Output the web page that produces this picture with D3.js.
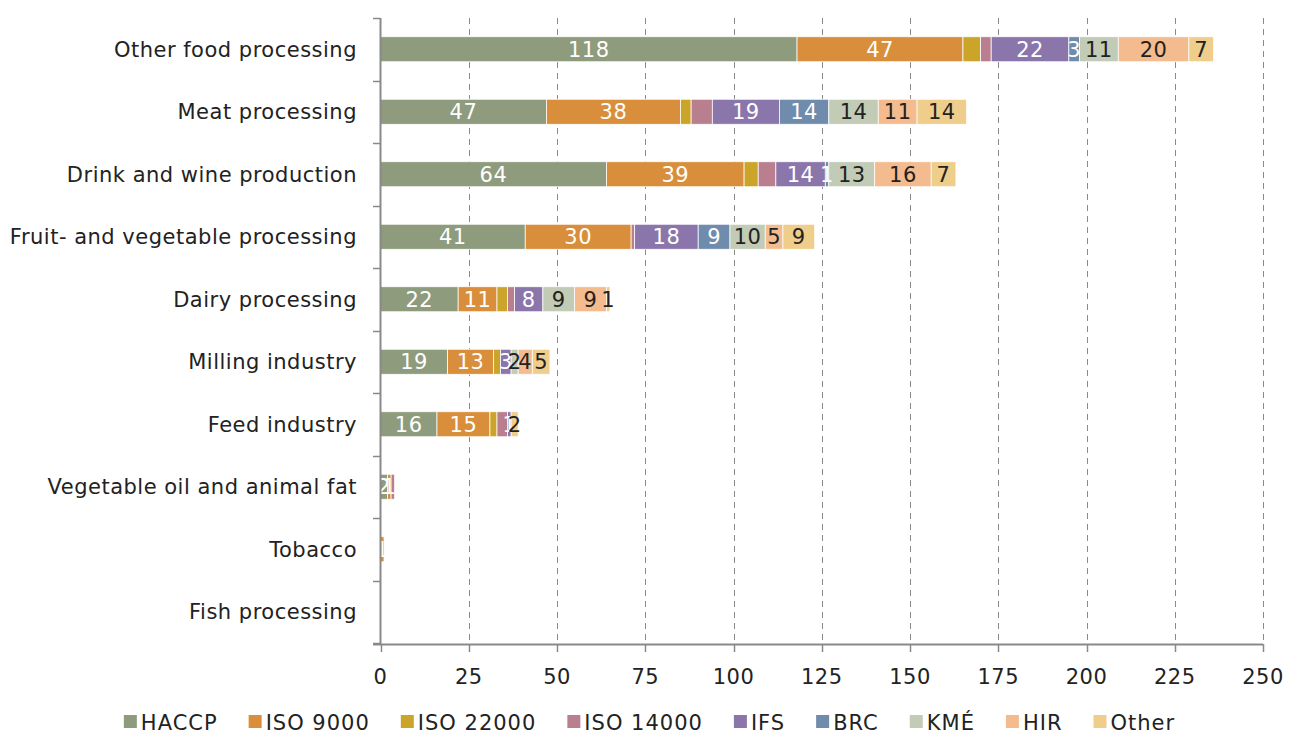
<!DOCTYPE html>
<html>
<head>
<meta charset="utf-8">
<script src="https://cdn.jsdelivr.net/npm/d3@7"></script>
<style>
  html, body { margin: 0; padding: 0; background: #fff; }
  svg { display: block; }
  text { font-family: "DejaVu Sans", "Lato", sans-serif; }
</style>
</head>
<body>
<script>
const categories = ["Other food processing", "Meat processing", "Drink and wine production",
  "Fruit- and vegetable processing", "Dairy processing", "Milling industry", "Feed industry",
  "Vegetable oil and animal fat", "Tobacco", "Fish processing"];
const seriesNames = ["HACCP", "ISO 9000", "ISO 22000", "ISO 14000", "IFS", "BRC", "KMÉ", "HIR", "Other"];
const haccp    = [118, 47, 64, 41, 22, 19, 16, 2, 0, 0];
const iso9000  = [47, 38, 39, 30, 11, 13, 15, 1, 1, 0];
const iso22000 = [5, 3, 4, 0, 3, 2, 2, 0, 0, 0];
const iso14000 = [3, 6, 5, 1, 2, 0, 3, 1, 0, 0];
const ifs      = [22, 19, 14, 18, 8, 3, 1, 0, 0, 0];
const brc      = [3, 14, 1, 9, 0, 0, 0, 0, 0, 0];
const kme      = [11, 14, 13, 10, 9, 2, 0, 0, 0, 0];
const hir      = [20, 11, 16, 5, 9, 4, 0, 0, 0, 0];
const other    = [7, 14, 7, 9, 1, 5, 2, 0, 0, 0];
const xTicks = [0, 25, 50, 75, 100, 125, 150, 175, 200, 225, 250];

const seriesValues = [haccp, iso9000, iso22000, iso14000, ifs, brc, kme, hir, other];
const colors = ["#8E9B7C", "#D98E3B", "#CBA52A", "#B97F8F", "#8B76AC", "#6F8CAD", "#C1CBB5", "#F4BC8E", "#EFCD8A"];
const labelColors = ["#fff", "#fff", null, null, "#fff", "#fff", "#222", "#222", "#222"];

const W = 1297, H = 734;
const FS = 21;
const svg = d3.select("body").append("svg").attr("width", W).attr("height", H);

const x = d3.scaleLinear().domain([0, 250]).range([380.5, 1263]);
const y = d3.scaleBand().domain(categories).range([18, 643]).paddingInner(0.6).paddingOuter(0.3);
const band = d3.scaleBand().domain(categories).range([18, 643]);

const table = categories.map((c, i) => {
  const row = { category: c };
  seriesNames.forEach((s, k) => row[s] = seriesValues[k][i]);
  return row;
});
const stacked = d3.stack().keys(seriesNames)(table);

// gridlines
svg.append("g").selectAll("line").data(xTicks.filter(t => t > 0)).join("line")
  .attr("x1", d => Math.round(x(d)) + 0.5).attr("x2", d => Math.round(x(d)) + 0.5)
  .attr("y1", 18).attr("y2", 645)
  .attr("stroke", "#8a8a8a").attr("stroke-width", 1).attr("stroke-dasharray", "6,5");

// bars
const g = svg.append("g");
stacked.forEach((layer, k) => {
  g.append("g").selectAll("rect").data(layer).join("rect")
    .attr("x", d => x(d[0]))
    .attr("width", d => Math.max(0, x(d[1]) - x(d[0])))
    .attr("y", d => y(d.data.category))
    .attr("height", y.bandwidth())
    .attr("fill", colors[k])
    .attr("stroke", "#fff").attr("stroke-width", 0.75)
    .attr("display", d => (d[1] - d[0]) > 0 ? null : "none");
});

// labels
stacked.forEach((layer, k) => {
  if (!labelColors[k]) return;
  g.append("g").selectAll("text").data(layer.filter(d => d[1] - d[0] > 0)).join("text")
    .attr("x", d => (x(d[0]) + x(d[1])) / 2)
    .attr("y", d => y(d.data.category) + y.bandwidth() / 2)
    .attr("dy", "0.36em")
    .attr("text-anchor", "middle")
    .attr("font-size", FS)
    .attr("letter-spacing", 0.5)
    .attr("fill", labelColors[k])
    .text(d => d[1] - d[0]);
});

// y axis
const yAxis = svg.append("g");
yAxis.append("line").attr("x1", 380.5).attr("x2", 380.5).attr("y1", 18).attr("y2", 645)
  .attr("stroke", "#898989").attr("stroke-width", 2);
const boundaries = categories.map(c => band(c)).concat([band.range()[1]]);
yAxis.selectAll("line.tk").data(boundaries).join("line").attr("class", "tk")
  .attr("x1", 373).attr("x2", 380).attr("y1", d => Math.round(d) + 0.5).attr("y2", d => Math.round(d) + 0.5)
  .attr("stroke", "#898989").attr("stroke-width", 1.5);
yAxis.selectAll("text").data(categories).join("text")
  .attr("x", 357).attr("y", d => band(d) + band.bandwidth() / 2).attr("dy", "0.36em")
  .attr("text-anchor", "end").attr("font-size", FS).attr("letter-spacing", 0.5)
  .attr("fill", "#222").text(d => d);

// x axis
const xAxis = svg.append("g");
xAxis.append("line").attr("x1", 373).attr("x2", 1263).attr("y1", 644.5).attr("y2", 644.5)
  .attr("stroke", "#898989").attr("stroke-width", 2);
xAxis.selectAll("line.tk").data(xTicks).join("line").attr("class", "tk")
  .attr("x1", d => Math.round(x(d)) + 0.5).attr("x2", d => Math.round(x(d)) + 0.5)
  .attr("y1", 644).attr("y2", 652).attr("stroke", "#898989").attr("stroke-width", 1.5);
xAxis.selectAll("text").data(xTicks).join("text")
  .attr("x", d => x(d)).attr("y", 676).attr("dy", "0.36em")
  .attr("text-anchor", "middle").attr("font-size", FS).attr("letter-spacing", 0.5)
  .attr("fill", "#222").text(d => d);

// legend
const legend = svg.append("g");
const items = legend.selectAll("g").data(seriesNames).join("g");
items.append("rect").attr("width", 13).attr("height", 13).attr("y", -7)
  .attr("fill", (d, i) => colors[i]);
items.append("text").attr("x", 17).attr("dy", "0.36em").attr("font-size", FS)
  .attr("letter-spacing", 1).attr("fill", "#222").text(d => d);
let widths = [];
items.each(function () { widths.push(this.getBBox().width); });
const gap = 31;
const total = d3.sum(widths) + gap * (widths.length - 1);
let cx = W / 2 - total / 2 + 1;
items.attr("transform", (d, i) => { const t = `translate(${cx},722)`; cx += widths[i] + gap; return t; });
</script>
</body>
</html>
